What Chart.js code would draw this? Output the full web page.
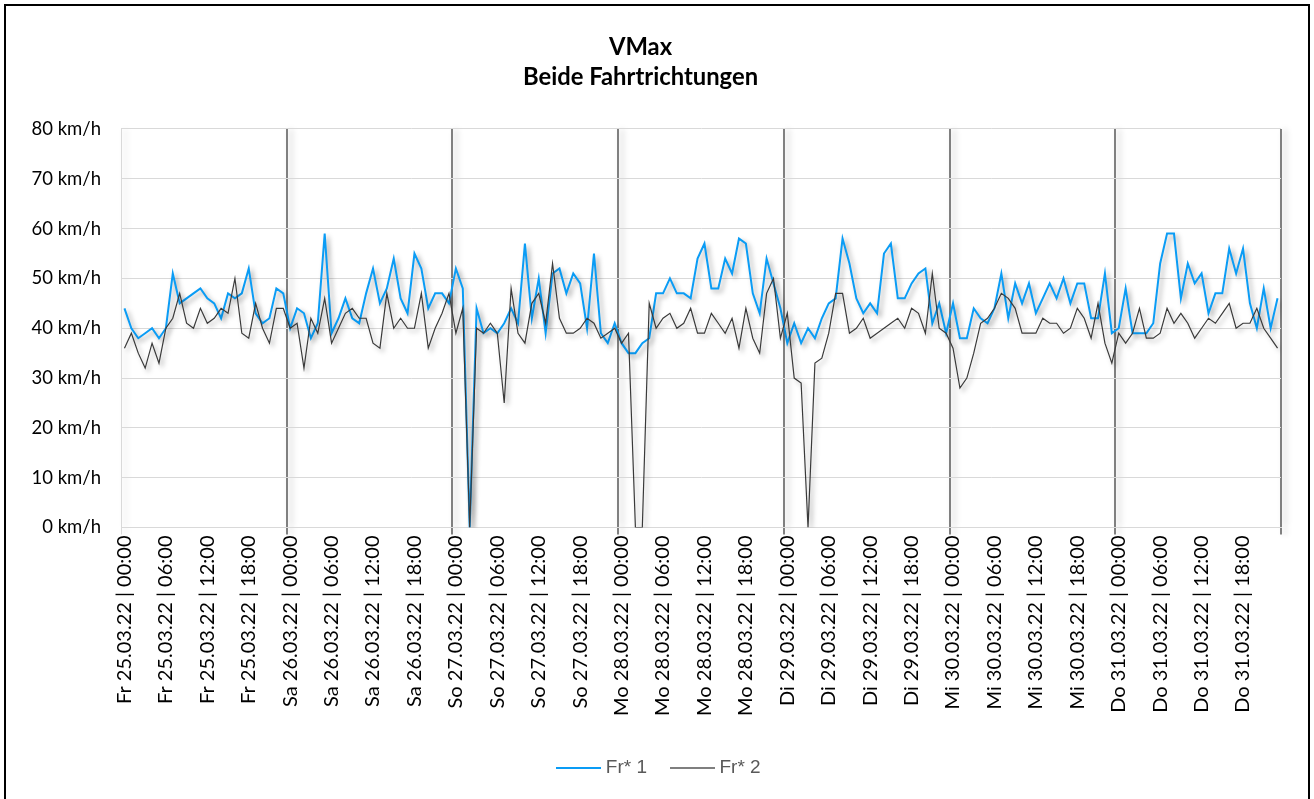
<!DOCTYPE html>
<html>
<head>
<meta charset="utf-8">
<script src="https://cdn.jsdelivr.net/npm/chart.js@4/dist/chart.umd.min.js"></script>
<style>
  html,body{margin:0;padding:0;background:#fff;}
  #wrap{position:relative;width:1314px;height:799px;}
  #frame{position:absolute;left:4px;top:4px;width:1306px;height:800px;border:2px solid #000;box-sizing:border-box;pointer-events:none;}
  canvas{position:absolute;left:0;top:0;}
</style>
</head>
<body>
<div id="wrap">
<canvas id="c" width="1314" height="799"></canvas>
<div id="frame"></div>
</div>
<script>
const days = ['Fr 25.03.22','Sa 26.03.22','So 27.03.22','Mo 28.03.22','Di 29.03.22','Mi 30.03.22','Do 31.03.22'];
const hours = ['00:00','01:00','02:00','03:00','04:00','05:00','06:00','07:00','08:00','09:00','10:00','11:00',
               '12:00','13:00','14:00','15:00','16:00','17:00','18:00','19:00','20:00','21:00','22:00','23:00'];
const yTickLabels = ['0 km/h','10 km/h','20 km/h','30 km/h','40 km/h','50 km/h','60 km/h','70 km/h','80 km/h'];
const seriesNames = ['Fr* 1','Fr* 2'];
const seriesColors = ['#0A9CF5','#3A3A3A'];

const fr1 = [
  44,40,38,39,40,38,40,51,45,46,47,48,46,45,42,47,46,47,52,43,41,42,48,47,
  40,44,43,38,41,59,39,42,46,42,41,47,52,45,48,54,46,43,55,52,44,47,47,45,
  52,48,0,44,39,40,39,41,44,41,57,42,50,39,51,52,47,51,49,40,55,39,37,41,
  37,35,35,37,38,47,47,50,47,47,46,54,57,48,48,54,51,58,57,47,43,54,49,44,
  37,41,37,40,38,42,45,46,58,53,46,43,45,43,55,57,46,46,49,51,52,41,45,39,
  45,38,38,44,42,41,44,51,42,49,45,49,43,46,49,46,50,45,49,49,42,42,51,39,
  40,48,39,39,39,41,53,59,59,46,53,49,51,43,47,47,56,51,56,45,40,48,40,46
];
const fr2 = [
  36,39,35,32,37,33,40,42,47,41,40,44,41,42,44,43,50,39,38,45,40,37,44,44,
  40,41,32,42,39,46,37,40,43,44,42,42,37,36,47,40,42,40,40,47,36,40,43,47,
  39,44,0,40,39,41,39,25,48,39,37,45,47,41,53,42,39,39,40,42,41,38,39,40,
  37,39,0,0,45,40,42,43,40,41,44,39,39,43,41,39,42,36,44,38,35,47,50,38,
  43,30,29,0,33,34,39,47,47,39,40,42,38,39,40,41,42,40,44,43,39,51,40,39,
  36,28,30,35,41,42,44,47,46,44,39,39,39,42,41,41,39,40,44,42,38,45,37,33,
  39,37,39,44,38,38,39,44,41,43,41,38,40,42,41,43,45,40,41,41,44,40,38,36
];

const categories = [];
days.forEach(d => hours.forEach(h => categories.push(d + ' | ' + h)));

const FONT = 'Lato, "Open Sans", sans-serif';

// legend line samples (45px long)
function legendLine(color, width) {
  const cv = document.createElement('canvas');
  cv.width = 45; cv.height = 4;
  const c = cv.getContext('2d');
  c.strokeStyle = color; c.lineWidth = width;
  c.beginPath(); c.moveTo(0, 2); c.lineTo(45, 2); c.stroke();
  return cv;
}

const shadowPlugin = {
  id: 'lineShadow',
  beforeDatasetDraw(chart) {
    const c = chart.ctx;
    c.save();
    c.shadowColor = 'rgba(0,0,0,0.35)';
    c.shadowBlur = 5;
    c.shadowOffsetX = 3;
    c.shadowOffsetY = 3;
  },
  afterDatasetDraw(chart) { chart.ctx.restore(); },
  afterLayout(chart) {
    const s = chart.scales.x;
    if (s && !s._shadowWrapped) {
      const orig = s.drawGrid;
      s.drawGrid = function (area) {
        const c = this.ctx;
        c.save();
        c.shadowColor = 'rgba(0,0,0,0.22)';
        c.shadowBlur = 6;
        c.shadowOffsetX = 4;
        c.shadowOffsetY = 0;
        orig.call(this, area);
        c.restore();
      };
      s._shadowWrapped = true;
    }
    if (chart.legend) {
      chart.legend.left += 20;
      chart.legend.right += 20;
    }
  }
};

new Chart(document.getElementById('c'), {
  type: 'line',
  data: {
    labels: categories,
    datasets: [
      { label: seriesNames[0], data: fr1, borderColor: seriesColors[0], backgroundColor: seriesColors[0],
        borderWidth: 2, pointRadius: 0, pointStyle: legendLine(seriesColors[0], 2), tension: 0, order: 1 },
      { label: seriesNames[1], data: fr2, borderColor: seriesColors[1], backgroundColor: seriesColors[1],
        borderWidth: 1.2, pointRadius: 0, pointStyle: legendLine('#555555', 1.3), tension: 0, order: 0 }
    ]
  },
  plugins: [shadowPlugin],
  options: {
    responsive: false,
    animation: false,
    layout: { padding: { left: 0, right: 33, top: 24, bottom: 11.5 } },
    plugins: {
      title: {
        display: true,
        text: ['VMax', 'Beide Fahrtrichtungen'],
        color: '#000',
        font: { family: FONT, size: 23.8, weight: 'bold', lineHeight: 1.26 },
        padding: { top: 8, bottom: 37 }
      },
      legend: {
        position: 'bottom',
        labels: {
          usePointStyle: true,
          pointStyleWidth: 36,
          color: '#595959',
          font: { family: '"Liberation Sans", Arial, sans-serif', size: 19 },
          padding: 27,
          sort: (a, b) => a.datasetIndex - b.datasetIndex
        }
      },
      tooltip: { enabled: false }
    },
    scales: {
      x: {
        type: 'category',
        offset: true,
        afterFit: s => { s.height = 204; },
        grid: {
          offset: true,
          drawTicks: true,
          tickLength: 7,
          color: ctx => {
            if (ctx.index === 0) return '#d9d9d9';
            if (ctx.index === undefined || ctx.index % 24 === 0) return '#808080';
            return 'rgba(0,0,0,0)';
          },
          lineWidth: ctx => (ctx.index === 0 ? 1 : 2)
        },
        border: { display: true, color: '#d9d9d9', width: 1 },
        ticks: {
          autoSkip: false,
          maxRotation: 90,
          minRotation: 90,
          padding: 1,
          color: '#000',
          font: { family: FONT, size: 20 },
          callback: function (v, i) { return i % 6 === 0 ? this.getLabelForValue(v) : ''; }
        }
      },
      y: {
        min: 0,
        max: 80,
        afterFit: s => { s.width = 121; },
        grid: { color: '#d9d9d9', lineWidth: 1, drawTicks: false },
        border: { display: true, color: '#d9d9d9' },
        ticks: {
          stepSize: 10,
          padding: 20,
          color: '#000',
          font: { family: FONT, size: 18.5 },
          callback: (v) => yTickLabels[Math.round(v / 10)]
        }
      }
    }
  }
});
</script>
</body>
</html>
